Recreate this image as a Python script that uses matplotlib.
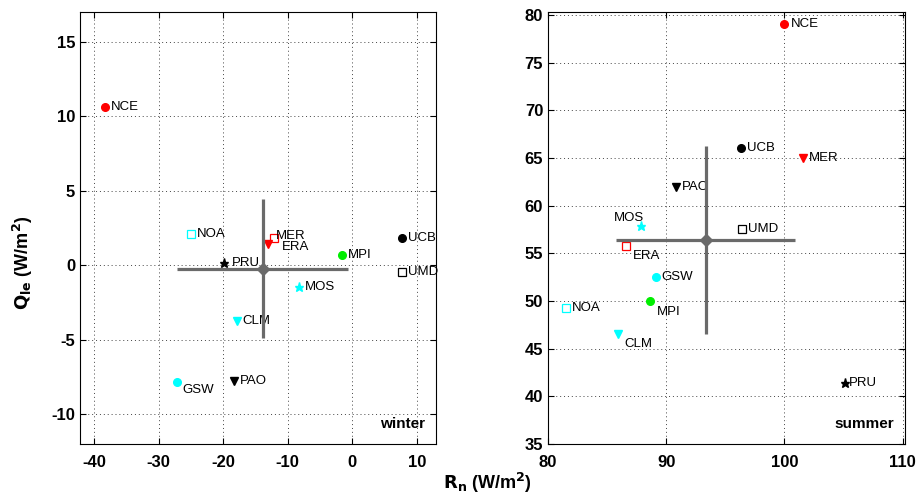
import matplotlib.pyplot as plt

plt.rcParams['font.family'] = ['Liberation Sans', 'DejaVu Sans']
plt.rcParams['axes.unicode_minus'] = False

# model names and colours (shared by both seasons)
models = ['NCE', 'NOA', 'MER', 'ERA', 'PRU', 'MPI', 'UCB', 'UMD', 'MOS', 'CLM', 'GSW', 'PAO']
colors = ['red', 'cyan', 'red', 'red', 'black', '#00ee00', 'black', 'black', 'cyan', 'cyan', 'cyan', 'black']
sym_winter = ['o', 's', 's', 'v', '*', 'o', 'o', 's', '*', 'v', 'o', 'v']
sym_summer = ['o', 's', 'v', 's', '*', 'o', 'o', 's', '*', 'v', 'o', 'v']

# winter: Rn, Qle
rn_winter = [-38.3, -25.0, -12.1, -13.1, -19.9, -1.6, 7.7, 7.7, -8.3, -17.9, -27.1, -18.4]
qle_winter = [10.6, 2.1, 1.8, 1.45, 0.15, 0.7, 1.8, -0.45, -1.45, -3.75, -7.85, -7.8]
# summer: Rn, Qle
rn_summer = [100.0, 81.5, 101.6, 86.6, 105.15, 88.6, 96.35, 96.4, 87.9, 85.9, 89.1, 90.85]
qle_summer = [79.0, 49.3, 65.0, 55.75, 41.4, 50.0, 66.0, 57.5, 57.9, 46.5, 52.5, 61.9]

# ensemble mean and spread (x mean, x spread, y mean, y spread)
spread_winter = [-13.85, 13.25, -0.22, 4.68]
spread_summer = [93.34, 7.59, 56.4, 9.9]

# label offsets in pixels (dx, dy, ha)
offs_winter = {'MER': (2, 2, 'left'), 'ERA': (14, -3, 'left'), 'PRU': (8, 0, 'left'),
               'GSW': (5, -8, 'left')}
offs_summer = {'MOS': (3, 8, 'right'), 'ERA': (7, -10, 'left'), 'MPI': (7, -11, 'left'),
               'CLM': (7, -10, 'left'), 'PRU': (4, 0, 'left')}

fig = plt.figure(figsize=(9.2, 5), dpi=100)
ax1 = fig.add_axes([0.087, 0.112, 0.387, 0.864])
ax2 = fig.add_axes([0.5957, 0.112, 0.388, 0.864])


def draw(ax, xs, ys, symbols, spread, offs, season, empty):
    for name, x, y, c, m in zip(models, xs, ys, colors, symbols):
        ms = 6 if m in 'sv' else 5.5
        if m == '*':
            ms = 6.5
        if name in empty:
            ax.plot(x, y, m, mfc='white', mec=c, mew=0.9, ms=ms, zorder=3)
        else:
            ax.plot(x, y, m, color=c, ms=ms, zorder=3)
        dx, dy, ha = offs.get(name, (6, 0, 'left'))
        ax.annotate(name, (x, y), xytext=(dx, dy), textcoords='offset pixels',
                    ha=ha, va='center', fontsize=9.5, zorder=4)
    mx, sx, my, sy = spread
    g = '#6a6a6a'
    ax.plot([mx - sx, mx + sx], [my, my], color=g, lw=2.3, zorder=5, solid_capstyle='butt')
    ax.plot([mx, mx], [my - sy, my + sy], color=g, lw=2.3, zorder=5, solid_capstyle='butt')
    ax.plot(mx, my, 'D', color=g, ms=6, zorder=6)
    ax.text(0.97, 0.03, season, transform=ax.transAxes, ha='right', va='bottom',
            fontsize=11, fontweight='bold')
    ax.grid(True, linestyle=(0, (1, 3)), color='#444444', lw=0.7)
    ax.set_axisbelow(True)
    ax.tick_params(direction='in', top=True, right=True, length=4, labelsize=12)
    ax.tick_params(axis='x', pad=8)
    for lab in ax.get_xticklabels() + ax.get_yticklabels():
        lab.set_fontweight('bold')
    for sp in ax.spines.values():
        sp.set_linewidth(0.8)


ax1.set_xlim(-42.2, 13)
ax1.set_ylim(-12, 17)
ax1.set_xticks([-40, -30, -20, -10, 0, 10])
ax1.set_yticks([-10, -5, 0, 5, 10, 15])
draw(ax1, rn_winter, qle_winter, sym_winter, spread_winter, offs_winter, 'winter',
     ['NOA', 'MER', 'UMD'])

ax2.set_xlim(80, 110.2)
ax2.set_ylim(35, 80.3)
ax2.set_xticks([80, 90, 100, 110])
ax2.set_yticks([35, 40, 45, 50, 55, 60, 65, 70, 75, 80])
draw(ax2, rn_summer, qle_summer, sym_summer, spread_summer, offs_summer, 'summer',
     ['NOA', 'ERA', 'UMD'])

fig.text(0.025, 0.474, r'$\mathbf{Q_{le}}$ (W/m$^{\mathbf{2}}$)', rotation=90, ha='center', va='center',
         fontsize=13, fontweight='bold')
fig.text(0.53, 0.035, r'$\mathbf{R_{n}}$ (W/m$^{\mathbf{2}}$)', ha='center', va='center',
         fontsize=13, fontweight='bold')

fig.savefig('out.png', dpi=100)
